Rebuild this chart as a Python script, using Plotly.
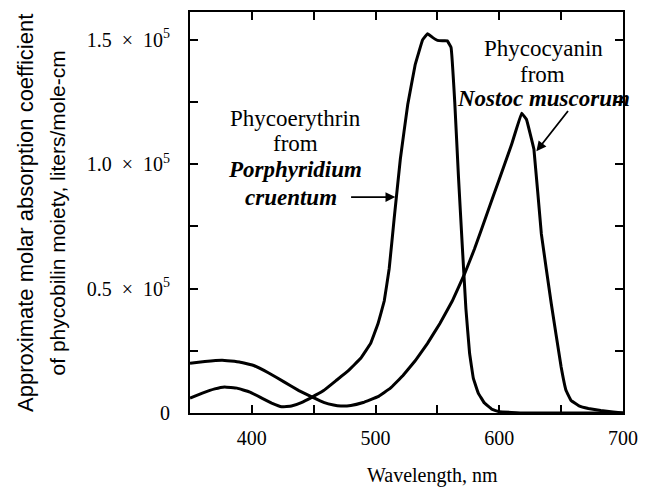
import plotly.graph_objects as go

# Phycoerythrin from Porphyridium cruentum
pe_wl = [350, 360, 370, 378, 388, 398, 408, 416, 424, 432, 440, 448, 458, 468, 478, 488, 496, 502, 507, 511, 515, 520, 526, 532, 538, 542, 546, 550, 554, 558, 561, 564, 567, 570, 573, 576, 579, 583, 588, 594, 600, 620, 650, 700]
pe_val = [0.06, 0.08, 0.097, 0.105, 0.10, 0.085, 0.06, 0.04, 0.025, 0.028, 0.042, 0.062, 0.09, 0.13, 0.17, 0.22, 0.28, 0.36, 0.45, 0.58, 0.78, 1.02, 1.24, 1.40, 1.50, 1.525, 1.51, 1.498, 1.496, 1.496, 1.47, 1.25, 0.95, 0.68, 0.42, 0.24, 0.14, 0.08, 0.04, 0.015, 0.005, 0.0, 0.0, 0.0]

# Phycocyanin from Nostoc muscorum
pc_wl = [350, 362, 376, 390, 402, 414, 426, 438, 448, 458, 466, 472, 480, 490, 502, 512, 522, 532, 542, 552, 562, 572, 580, 590, 600, 610, 618, 622, 628, 634, 642, 650, 654, 658, 664, 672, 682, 692, 700]
pc_val = [0.20, 0.207, 0.212, 0.205, 0.19, 0.16, 0.125, 0.09, 0.066, 0.043, 0.032, 0.028, 0.03, 0.042, 0.066, 0.10, 0.15, 0.21, 0.28, 0.36, 0.45, 0.56, 0.66, 0.80, 0.94, 1.08, 1.205, 1.18, 1.06, 0.72, 0.44, 0.185, 0.09, 0.05, 0.03, 0.018, 0.01, 0.004, 0.0]

x_ticks = [400, 450, 500, 550, 600, 650, 700]
x_labels = ["400", "", "500", "", "600", "", "700"]
y_ticks = [0, 0.25, 0.5, 0.75, 1.0, 1.25, 1.5]
sp = "&nbsp;&nbsp;"
y_labels = ["0", "", "0.5" + sp + "×" + sp + "10<sup>5</sup>", "",
            "1.0" + sp + "×" + sp + "10<sup>5</sup>", "", "1.5" + sp + "×" + sp + "10<sup>5</sup>"]

serif = "Liberation Serif"
fig = go.Figure()
for wl, val in [(pe_wl, pe_val), (pc_wl, pc_val)]:
    fig.add_trace(go.Scatter(x=wl, y=val, mode="lines",
                             line=dict(color="black", width=3, shape="spline", smoothing=0.15),
                             showlegend=False, hoverinfo="skip"))

axis_common = dict(showgrid=False, zeroline=False, showline=True, linecolor="black", linewidth=2,
                   mirror="ticks", ticks="inside", ticklen=8, tickwidth=2, tickcolor="black",
                   tickfont=dict(family=serif, size=20, color="black"))
fig.update_xaxes(range=[350, 700], tickmode="array", tickvals=x_ticks, ticktext=x_labels,
                 ticklabelstandoff=6, **axis_common)
fig.update_yaxes(range=[0, 1.612], tickmode="array", tickvals=y_ticks, ticktext=y_labels,
                 ticklabelstandoff=14, **axis_common)

def txt(x, y, s, italic=False):
    fig.add_annotation(x=x, y=y, xref="x", yref="y", text=s, showarrow=False,
                       font=dict(family=serif, size=23, color="black",
                                 style="italic" if italic else "normal",
                                 weight="bold" if italic else "normal"))

# Phycoerythrin labels
txt(435, 1.184, "Phycoerythrin")
txt(435, 1.084, "from")
txt(435, 0.98, "Porphyridium", True)
txt(432, 0.868, "cruentum", True)
fig.add_annotation(x=516, y=0.868, ax=479, ay=0.868, xref="x", yref="y", axref="x", ayref="y",
                   text="", showarrow=True, arrowhead=2, arrowsize=1.1, arrowwidth=1.8, arrowcolor="black")

# Phycocyanin labels
txt(635.5, 1.464, "Phycocyanin")
txt(635, 1.36, "from")
txt(636, 1.264, "Nostoc muscorum", True)
fig.add_annotation(x=630, y=1.052, ax=656.5, ay=1.22, xref="x", yref="y", axref="x", ayref="y",
                   text="", showarrow=True, arrowhead=2, arrowsize=1.1, arrowwidth=1.8, arrowcolor="black")

# axis titles
fig.add_annotation(x=546, y=-0.155, xref="x", yref="paper", yanchor="middle", showarrow=False,
                   text="Wavelength, nm", font=dict(family=serif, size=20, color="black"))
fig.add_annotation(x=-0.380, y=0.5, xref="paper", yref="paper", xanchor="center", yanchor="middle",
                   textangle=-90, showarrow=False,
                   text="Approximate molar absorption coefficient",
                   font=dict(family="Liberation Sans", size=22, color="black"))
fig.add_annotation(x=-0.305, y=0.5, xref="paper", yref="paper", xanchor="center", yanchor="middle",
                   textangle=-90, showarrow=False,
                   text="of phycobilin moiety, liters/mole-cm",
                   font=dict(family="Liberation Sans", size=21, color="black"))

fig.update_layout(width=648, height=490, margin=dict(l=190, r=20, t=10, b=77),
                  plot_bgcolor="white", paper_bgcolor="white")
fig.write_html("out.html")
